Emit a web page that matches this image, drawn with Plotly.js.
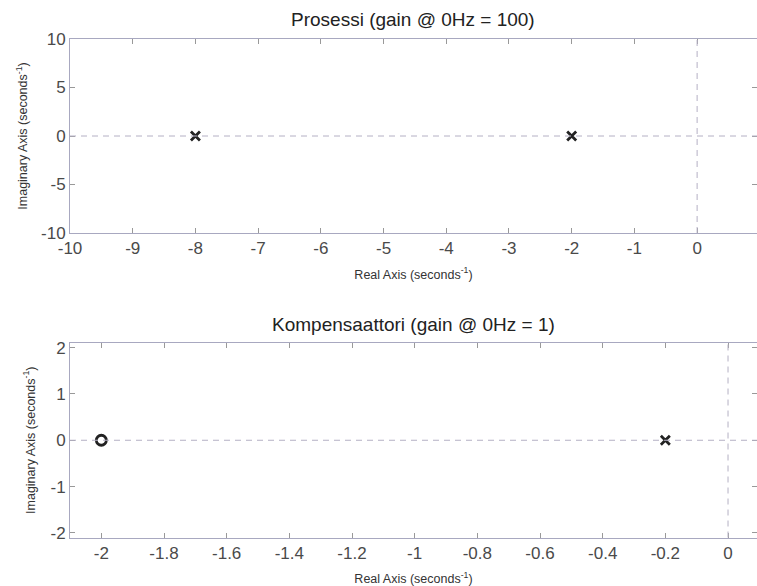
<!DOCTYPE html>
<html>
<head>
<meta charset="utf-8">
<script src="https://cdn.plot.ly/plotly-3.0.1.min.js"></script>
<style>html,body{margin:0;padding:0;background:#fff;}#chart{width:757px;height:586px;}</style>
</head>
<body>
<div id="chart"></div>
<script>
// Process (Prosessi) poles
const processPolesRe = [-8, -2];
const processPolesIm = [0, 0];
// Compensator (Kompensaattori) poles and zeros
const compPolesRe = [-0.2];
const compPolesIm = [0];
const compZerosRe = [-2];
const compZerosIm = [0];

// Tick labels (hyphen minus as in the reference)
const x1Ticks = [-10, -9, -8, -7, -6, -5, -4, -3, -2, -1, 0];
const x1Labels = ['-10', '-9', '-8', '-7', '-6', '-5', '-4', '-3', '-2', '-1', '0'];
const y1Ticks = [-10, -5, 0, 5, 10];
const y1Labels = ['-10', '-5', '0', '5', '10'];
const x2Ticks = [-2, -1.8, -1.6, -1.4, -1.2, -1, -0.8, -0.6, -0.4, -0.2, 0];
const x2Labels = ['-2', '-1.8', '-1.6', '-1.4', '-1.2', '-1', '-0.8', '-0.6', '-0.4', '-0.2', '0'];
const y2Ticks = [-2, -1, 0, 1, 2];
const y2Labels = ['-2', '-1', '0', '1', '2'];

const titles = ['Prosessi (gain @ 0Hz = 100)', 'Kompensaattori (gain @ 0Hz = 1)'];
const xTitle = 'Real Axis (seconds<sup>-1</sup>)';
const yTitle = 'Imaginary Axis (seconds<sup>-1</sup>)';

const FONT = 'Liberation Sans, Arial, sans-serif';
const markColor = '#222';
const dashColor = '#b4b0c4';
const boxColor = '#a8a8c0';

const traces = [
  {x: processPolesRe, y: processPolesIm, xaxis: 'x', yaxis: 'y', mode: 'markers', type: 'scatter',
   marker: {symbol: 'x-thin-open', size: 9, color: markColor, line: {width: 2.8, color: markColor}}},
  {x: compPolesRe, y: compPolesIm, xaxis: 'x2', yaxis: 'y2', mode: 'markers', type: 'scatter',
   marker: {symbol: 'x-thin-open', size: 9, color: markColor, line: {width: 2.8, color: markColor}}},
  {x: compZerosRe, y: compZerosIm, xaxis: 'x2', yaxis: 'y2', mode: 'markers', type: 'scatter',
   marker: {symbol: 'circle-open', size: 10, color: markColor, line: {width: 2.8, color: markColor}}}
];

function xax(range, tv, tt, anchor, standoff) {
  return {
    domain: [70/757, 1], range: range, tickmode: 'array', tickvals: tv, ticktext: tt, anchor: anchor,
    showgrid: false, zeroline: false, showline: true, linecolor: boxColor, linewidth: 1,
    mirror: 'ticks', ticks: 'inside', ticklen: 5, tickcolor: '#999',
    tickfont: {family: FONT, size: 17, color: '#4a4a4a'},
    title: {text: xTitle, font: {family: FONT, size: 12.5, color: '#333'}, standoff: standoff},
    fixedrange: true
  };
}
function yax(range, tv, tt, domain, anchor, standoff) {
  return {
    domain: domain, range: range, tickmode: 'array', tickvals: tv, ticktext: tt, anchor: anchor,
    showgrid: false, zeroline: false, showline: true, linecolor: boxColor, linewidth: 1,
    mirror: 'ticks', ticks: 'inside', ticklen: 5, tickcolor: '#999',
    tickfont: {family: FONT, size: 17, color: '#4a4a4a'},
    title: {text: yTitle, font: {family: FONT, size: 12.5, color: '#333'}, standoff: standoff},
    fixedrange: true
  };
}

const y1dom = [(586-233)/586, (586-39)/586];
const y2dom = [(586-537.5)/586, (586-343)/586];

const layout = {
  width: 757, height: 586,
  margin: {l: 0, r: 0, t: 0, b: 0},
  paper_bgcolor: '#fff', plot_bgcolor: '#fff',
  showlegend: false,
  font: {family: FONT},
  xaxis: xax([-10, 0.955], x1Ticks, x1Labels, 'y', 12),
  yaxis: yax([-10, 10], y1Ticks, y1Labels, y1dom, 'x', 10),
  xaxis2: xax([-2.1, 0.0925], x2Ticks, x2Labels, 'y2', 12),
  yaxis2: yax([-2.1, 2.1], y2Ticks, y2Labels, y2dom, 'x2', 12),
  shapes: [
    {type: 'line', xref: 'x domain', yref: 'y', x0: 0, x1: 1, y0: 0, y1: 0, line: {color: dashColor, width: 1, dash: '6px,5px'}},
    {type: 'line', xref: 'x', yref: 'y domain', x0: 0, x1: 0, y0: 0, y1: 1, line: {color: dashColor, width: 1, dash: '6px,5px'}},
    {type: 'line', xref: 'x2 domain', yref: 'y2', x0: 0, x1: 1, y0: 0, y1: 0, line: {color: dashColor, width: 1, dash: '6px,5px'}},
    {type: 'line', xref: 'x2', yref: 'y2 domain', x0: 0, x1: 0, y0: 0, y1: 1, line: {color: dashColor, width: 1, dash: '6px,5px'}}
  ],
  annotations: [
    {text: titles[0], xref: 'paper', yref: 'paper', x: 413/757, y: (586-20)/586, xanchor: 'center', yanchor: 'middle', showarrow: false,
     font: {family: FONT, size: 19, color: '#222'}},
    {text: titles[1], xref: 'paper', yref: 'paper', x: 413/757, y: (586-324)/586, xanchor: 'center', yanchor: 'middle', showarrow: false,
     font: {family: FONT, size: 19, color: '#222'}}
  ]
};

Plotly.newPlot('chart', traces, layout, {displayModeBar: false, staticPlot: true});
</script>
</body>
</html>
